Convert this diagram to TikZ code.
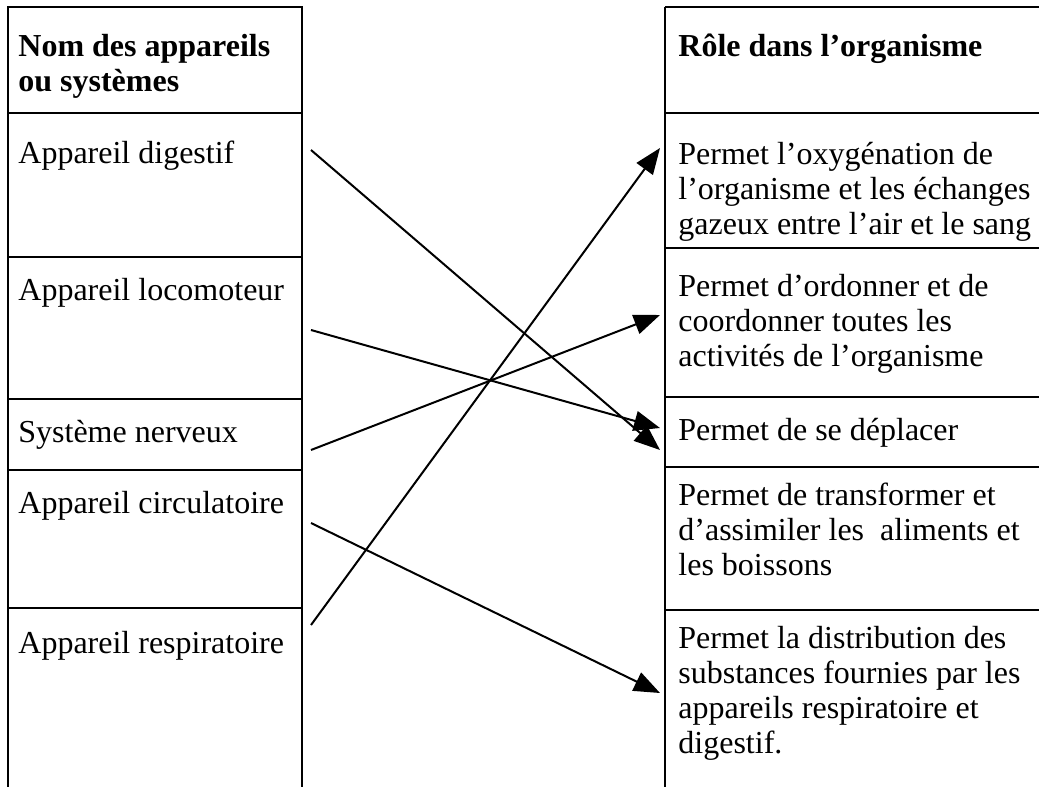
\documentclass[tikz,border=0pt]{standalone}
\usepackage{fontspec}
\setmainfont{Liberation Serif}
\usetikzlibrary{arrows.meta}
\begin{document}
\begin{tikzpicture}
  [x=0.5pt,y=-0.5pt,
   every node/.style={inner sep=0pt,anchor=base west,align=left,
     font=\fontsize{16}{17.5}\selectfont},
   head/.style={font=\fontsize{16}{17.5}\selectfont\bfseries},
   grid/.style={line width=0.75pt},
   link/.style={line width=1pt,-{Triangle[length=13pt,width=10pt]}}]
  \useasboundingbox (0,0) rectangle (1039,787);
  % left table
  \draw[grid] (8,787) -- (8,7) -- (302,7) -- (302,787);
  \foreach \y in {113,257,399,470,608}
    \draw[grid] (8,\y) -- (302,\y);
  % right table
  \draw[grid] (665,787) -- (665,7);
  \foreach \y in {7,113,248,397,467,610}
    \draw[grid] (665,\y) -- (1039,\y);
  % names (base = last line)
  \node (nom) at (18,91) [head] {Nom des appareils\\ou systèmes};
  \node (dig) at (18,163) {Appareil digestif};
  \node (loc) at (18,300) {Appareil locomoteur};
  \node (ner) at (18,442) {Système nerveux};
  \node (cir) at (18,513) {Appareil circulatoire};
  \node (res) at (18,653) {Appareil respiratoire};
  % roles
  \node (role) at (678,56) [head] {Rôle dans l’organisme};
  \node (oxy) at (678,234) {Permet l’oxygénation de\\l’organisme et les échanges\\gazeux entre l’air et le sang};
  \node (ord) at (678,366) {Permet d’ordonner et de\\coordonner toutes les\\activités de l’organisme};
  \node (dep) at (678,440) {Permet de se déplacer};
  \node (tra) at (678,575) {Permet de transformer et\\d’assimiler les~ aliments et\\les boissons};
  \node (dis) at (678,753) {Permet la distribution des\\substances fournies par les\\appareils respiratoire et\\digestif.};
  % arrow ends
  \coordinate (sdig) at (311,150);
  \coordinate (sloc) at (311,330);
  \coordinate (sner) at (311,450);
  \coordinate (scir) at (311,523);
  \coordinate (sres) at (311,625);
  \coordinate (toxy) at (660,148);
  \coordinate (tord) at (660,315);
  \coordinate (tdep1) at (660,428);
  \coordinate (tdep2) at (660,450);
  \coordinate (tdis) at (660,693);
  \draw[link] (sdig) -- (tdep2);
  \draw[link] (sloc) -- (tdep1);
  \draw[link] (sner) -- (tord);
  \draw[link] (scir) -- (tdis);
  \draw[link] (sres) -- (toxy);
\end{tikzpicture}
\end{document}
